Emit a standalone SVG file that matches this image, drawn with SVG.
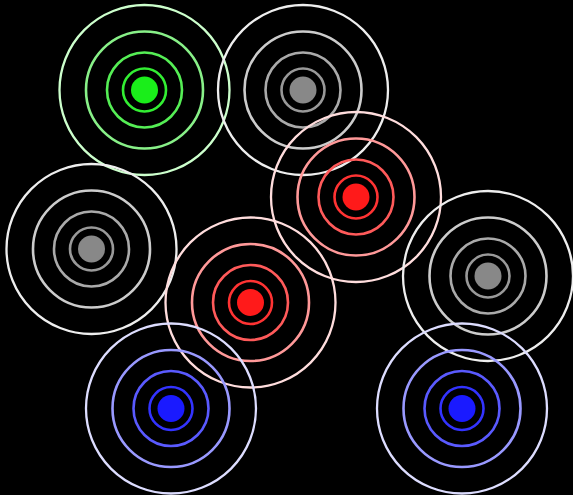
<svg xmlns="http://www.w3.org/2000/svg" width="573" height="495" viewBox="0 0 573 495">
<style>
circle{fill:none;stroke-width:2.6}
.r4{stroke-width:2.3}
.g .d{fill:#1aee1a;stroke:none}.g .r1{stroke:#33ee33}.g .r2{stroke:#55ee55}.g .r3{stroke:#88f088}.g .r4{stroke:#ccffcc}
.n .d{fill:#888;stroke:none}.n .r1{stroke:#999}.n .r2{stroke:#aaa}.n .r3{stroke:#ccc}.n .r4{stroke:#eee}
.e .d{fill:#ff1a1a;stroke:none}.e .r1{stroke:#ff3333}.e .r2{stroke:#ff5a5a}.e .r3{stroke:#ff9999}.e .r4{stroke:#ffdddd}
.b .d{fill:#1a1aff;stroke:none}.b .r1{stroke:#3333ff}.b .r2{stroke:#5a5aff}.b .r3{stroke:#9999ff}.b .r4{stroke:#ddddff}
</style>
<rect width="573" height="495" fill="#000"/>
<g id="green" class="g" transform="translate(144.5 90)"><circle class="r4" r="85"/><circle class="r3" r="58.5"/><circle class="r2" r="37.5"/><circle class="r1" r="21.5"/><circle class="d" r="13.5"/></g>
<g id="gray-top" class="n" transform="translate(303 90)"><circle class="r4" r="85"/><circle class="r3" r="58.5"/><circle class="r2" r="37.5"/><circle class="r1" r="21.5"/><circle class="d" r="13.5"/></g>
<g id="red-top" class="e" transform="translate(356 197)"><circle class="r4" r="85"/><circle class="r3" r="58.5"/><circle class="r2" r="37.5"/><circle class="r1" r="21.5"/><circle class="d" r="13.5"/></g>
<g id="gray-left" class="n" transform="translate(91.5 249)"><circle class="r4" r="85"/><circle class="r3" r="58.5"/><circle class="r2" r="37.5"/><circle class="r1" r="21.5"/><circle class="d" r="13.5"/></g>
<g id="red-mid" class="e" transform="translate(250.5 302.5)"><circle class="r4" r="85"/><circle class="r3" r="58.5"/><circle class="r2" r="37.5"/><circle class="r1" r="21.5"/><circle class="d" r="13.5"/></g>
<g id="gray-right" class="n" transform="translate(488 276)"><circle class="r4" r="85"/><circle class="r3" r="58.5"/><circle class="r2" r="37.5"/><circle class="r1" r="21.5"/><circle class="d" r="13.5"/></g>
<g id="blue-left" class="b" transform="translate(171 408.5)"><circle class="r4" r="85"/><circle class="r3" r="58.5"/><circle class="r2" r="37.5"/><circle class="r1" r="21.5"/><circle class="d" r="13.5"/></g>
<g id="blue-right" class="b" transform="translate(462 408.5)"><circle class="r4" r="85"/><circle class="r3" r="58.5"/><circle class="r2" r="37.5"/><circle class="r1" r="21.5"/><circle class="d" r="13.5"/></g>
<g id="connectors"></g>
</svg>
